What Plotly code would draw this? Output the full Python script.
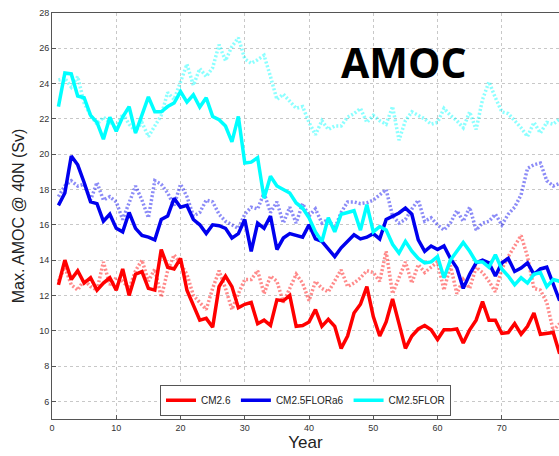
import plotly.graph_objects as go

years = list(range(1, 80))

# CM2.6
cm26_solid = [12.6, 14.0, 12.9, 13.4, 12.7, 13.0, 12.3, 12.7, 13.0, 12.3,
              13.5, 12.0, 13.2, 13.35, 12.4, 12.3, 14.6, 13.6, 13.5, 14.1,
              12.3, 11.4, 10.6, 10.7, 10.2, 12.5, 13.1, 12.5, 11.3, 11.5,
              11.6, 10.4, 10.6, 10.3, 11.75, 11.7, 12.0, 10.25, 10.3, 10.5,
              11.2, 10.25, 10.65, 10.25, 9.0, 9.7, 11.0, 11.5, 12.5, 10.8,
              9.7, 10.5, 11.8, 10.4, 9.0, 9.7, 10.1, 10.3, 10.05, 9.5,
              10.05, 10.05, 10.1, 9.3, 10.05, 10.6, 11.65, 10.6, 10.6, 9.85,
              9.9, 10.4, 9.8, 10.25, 11.0, 9.8, 9.85, 9.9, 8.7]
cm26_dotted = [12.8, 13.6, 12.6, 12.3, 12.9, 12.5, 12.3, 13.9, 12.6, 13.0,
               12.8, 12.4, 13.4, 14.0, 12.8, 13.5, 11.9, 13.4, 14.3, 13.8,
               13.2, 12.0, 11.6, 11.2, 12.4, 13.4, 12.4, 11.2, 12.1, 12.9,
               12.9, 13.4, 12.1, 13.1, 12.8, 11.6, 12.4, 13.2, 12.7, 11.7,
               12.8, 12.4, 12.2, 12.8, 13.45, 12.5, 12.7, 13.0, 13.4, 13.3,
               12.8, 14.5, 12.1, 13.0, 13.9, 12.7, 13.75, 13.3, 13.6, 13.9,
               12.3, 13.7, 12.1, 12.9, 12.4, 13.6, 13.3, 12.8, 12.2, 13.5,
               14.2, 14.8, 15.4, 14.2, 12.4, 12.3, 11.6, 10.0, 10.4]

# CM2.5FLORa6
a6_solid = [17.1, 17.8, 19.9, 19.4, 18.4, 17.3, 17.2, 16.2, 16.6, 15.8,
            15.6, 16.7, 15.8, 15.4, 15.3, 15.15, 16.3, 16.5, 17.5, 17.0,
            17.1, 16.3, 16.0, 15.5, 16.0, 15.95, 15.8, 15.25, 15.5, 16.3,
            14.5, 16.1, 15.8, 16.5, 14.6, 15.25, 15.5, 15.4, 15.3, 16.0,
            15.2, 15.06, 14.6, 14.2, 14.7, 15.06, 15.44, 15.2, 15.3, 15.5,
            15.2, 16.3, 16.5, 16.67, 16.95, 16.6, 15.15, 14.5, 14.8, 14.6,
            14.8, 14.1, 13.55, 12.4, 13.2, 13.84, 14.0, 13.84, 13.1, 13.84,
            14.1, 13.36, 13.55, 13.84, 13.2, 13.5, 13.6, 12.6, 11.7]
a6_dotted = [17.6, 18.2, 18.5, 18.2, 18.3, 17.4, 18.4, 17.4, 17.6, 17.3,
             16.3, 17.2, 18.2, 17.4, 16.4, 18.5, 18.3, 17.8, 17.1, 18.3,
             17.6, 16.5, 16.7, 17.4, 17.3, 16.6, 16.2, 16.0, 15.8, 16.6,
             17.0, 16.9, 17.8, 16.7, 17.3, 16.1, 17.0, 16.1, 17.2, 16.5,
             16.9, 16.1, 16.3, 15.8, 16.7, 17.3, 17.3, 17.2, 17.25, 17.4,
             17.7, 18.0, 16.5, 16.1, 16.3, 16.9, 17.4, 16.2, 16.4, 16.0,
             15.7, 16.1, 16.8, 16.2, 17.0, 15.7, 16.1, 16.2, 16.6, 16.0,
             16.6, 17.0, 17.7, 19.2, 19.4, 19.5, 18.5, 18.2, 18.35]

# CM2.5FLOR
flor_solid = [22.7, 24.6, 24.55, 23.3, 23.2, 22.2, 21.8, 20.85, 22.1, 21.3,
              22.1, 22.7, 21.2, 22.2, 23.25, 22.4, 22.4, 22.7, 22.9, 23.55,
              22.95, 23.37, 22.67, 23.2, 22.14, 21.95, 21.6, 20.7, 22.14, 19.5,
              19.55, 19.8, 17.5, 18.75, 18.2, 18.0, 17.8, 17.24, 16.95, 16.4,
              15.6, 15.06, 16.4, 15.6, 16.6, 16.7, 16.8, 15.7, 17.14, 15.6,
              15.9, 15.7, 14.9, 14.4, 15.06, 14.5, 14.1, 13.84, 13.9, 14.2,
              13.0, 14.0, 14.5, 15.0, 14.5, 13.9, 13.9, 13.6, 14.3, 13.5,
              13.1, 12.6, 13.0, 12.7, 13.2, 13.3, 12.5, 12.9, 12.8]
flor_dotted = [24.2, 24.3, 23.8, 24.4, 22.9, 22.2, 21.7, 22.1, 21.8, 21.5,
               22.3, 21.7, 21.3, 21.8, 21.0, 21.6, 22.2, 23.5, 23.1, 24.1,
               25.1, 23.9, 24.85, 24.4, 24.9, 26.2, 25.3, 26.1, 26.6, 25.4,
               25.15, 25.35, 25.6, 24.4, 23.1, 23.4, 23.0, 22.6, 22.7, 21.8,
               21.1, 21.9, 21.4, 21.6, 21.6, 22.1, 22.3, 22.6, 21.8, 22.2,
               21.9, 21.7, 22.7, 20.8, 21.9, 22.4, 22.2, 22.0, 21.7, 21.8,
               22.6, 22.2, 21.9, 21.5, 22.4, 21.4, 23.1, 24.1, 23.2, 22.4,
               22.3, 21.9, 21.5, 21.0, 21.8, 21.2, 21.8, 21.7, 22.0]

names = ["CM2.6", "CM2.5FLORa6", "CM2.5FLOR"]
colors = ["#ff0000", "#0000ee", "#00ffff"]
solid_series = [cm26_solid, a6_solid, flor_solid]
dotted_series = [cm26_dotted, a6_dotted, flor_dotted]

x_ticks = [0, 10, 20, 30, 40, 50, 60, 70]
y_ticks = [6, 8, 10, 12, 14, 16, 18, 20, 22, 24, 26, 28]

fig = go.Figure()

# dotted companions first (drawn underneath the solid runs)
for name, color, vals in zip(names, colors, dotted_series):
    fig.add_trace(go.Scatter(
        x=years, y=vals, mode="lines", showlegend=False, opacity=0.45,
        line=dict(color=color, width=3.5, dash="2px,2px"), name=name))

for name, color, vals in zip(names, colors, solid_series):
    fig.add_trace(go.Scatter(
        x=years, y=vals, mode="lines", name=name,
        line=dict(color=color, width=3.5)))

tick_font = dict(family="Liberation Sans, Arial", size=9, color="#333333")

fig.update_layout(
    width=559, height=456,
    margin=dict(l=52, r=0, t=13, b=37),
    paper_bgcolor="white", plot_bgcolor="white",
    xaxis=dict(
        range=[0, 78.9], tickvals=x_ticks, tickfont=tick_font,
        showgrid=True, gridcolor="#c8c8c8", griddash="dot", gridwidth=1,
        showline=True, linecolor="#555555", linewidth=1, mirror=True,
        ticks="inside", ticklen=4, tickcolor="#555555", zeroline=False,
        title=dict(text="Year", font=dict(family="Liberation Sans, Arial",
                                           size=17, color="#222222"),
                   standoff=4),
    ),
    yaxis=dict(
        range=[5, 28], tickvals=y_ticks, tickfont=tick_font,
        showgrid=True, gridcolor="#c8c8c8", griddash="dot", gridwidth=1,
        showline=True, linecolor="#555555", linewidth=1, mirror=True,
        ticks="inside", ticklen=4, tickcolor="#555555", zeroline=False,
        title=dict(text="Max. AMOC @ 40N (Sv)",
                   font=dict(family="Liberation Sans, Arial", size=16,
                             color="#222222"),
                   standoff=10),
    ),
    legend=dict(
        orientation="h", x=0.5, xanchor="center", y=0.008, yanchor="bottom",
        bgcolor="white", bordercolor="#555555", borderwidth=1,
        font=dict(family="Liberation Sans, Arial", size=10, color="#222222"),
        itemwidth=30, tracegroupgap=0,
    ),
    annotations=[dict(
        text="<b>AMOC</b>", x=0.695, y=0.88, xref="paper", yref="paper",
        showarrow=False, xanchor="center", yanchor="middle",
        font=dict(family="Open Sans, Noto Sans", size=41, color="black"),
    )],
)

fig.write_html("out.html")
